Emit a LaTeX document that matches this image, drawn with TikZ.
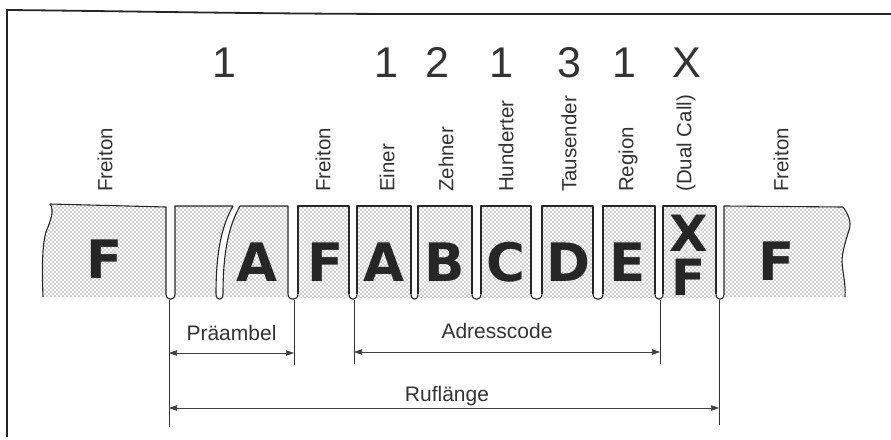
\documentclass[tikz,border=0pt]{standalone}
\usepackage{fontspec}
\setmainfont{Liberation Sans}
\newfontfamily\heavyfont{DejaVu Sans}
\usetikzlibrary{patterns,arrows.meta}

% staggered halftone dots for the tape
\pgfdeclarepatternformonly{halftone}{\pgfpoint{-1pt}{-1pt}}{\pgfpoint{5pt}{5pt}}{\pgfpoint{4pt}{4pt}}{%
  \pgfpathcircle{\pgfpoint{1pt}{1pt}}{0.72pt}%
  \pgfpathcircle{\pgfpoint{3pt}{3pt}}{0.72pt}%
  \pgfusepath{fill}}

\tikzset{
  frame/.style={line width=1.8pt, black!85},
  tape/.style={pattern=halftone, pattern color=black!80},
  edge/.style={line width=1.1pt, line join=round, black!85},
  digit/.style={font=\fontsize{43}{50}\selectfont, inner sep=0pt, text=black!80},
  vlabel/.style={rotate=90, anchor=west, inner sep=0pt, font=\fontsize{20.5}{24}\selectfont, text=black!80},
  glyph/.style={font=\heavyfont\bfseries\fontsize{53}{60}\selectfont, inner sep=0pt, text=black!85},
  pairglyph/.style={font=\heavyfont\bfseries\fontsize{50}{44}\selectfont, inner sep=0pt, text=black!85, align=center},
  caption/.style={font=\fontsize{21}{25}\selectfont, inner sep=0pt, text=black!80},
  tick/.style={line width=0.7pt, black!80},
  span/.style={{Triangle[length=8pt,width=5.5pt]}-{Triangle[length=8pt,width=5.5pt]}, line width=0.6pt, black!75},
}

\begin{document}
\begin{tikzpicture}[x=1pt, y=-1pt]
\useasboundingbox (0,0) rectangle (891,439);

% outer frame (left and top sides)
\draw[frame] (7,437) -- (7,10) .. controls (120,11) and (260,14) .. (420,14) -- (891,14);

% digits of the call
\node[digit] (d0) at (224,62.5) {1};
\node[digit] (d1) at (386.5,62.5) {1};
\node[digit] (d2) at (437,62.5) {2};
\node[digit] (d3) at (501.5,62.5) {1};
\node[digit] (d4) at (569,62.5) {3};
\node[digit] (d5) at (624.5,62.5) {1};
\node[digit] (d6) at (687,62.5) {X};

% vertical field labels
\node[vlabel] (l0) at (105,192) {Freiton};
\node[vlabel] (l1) at (323,192) {Freiton};
\node[vlabel] (l2) at (387,192) {Einer};
\node[vlabel] (l3) at (446,192) {Zehner};
\node[vlabel] (l4) at (506,192) {Hunderter};
\node[vlabel] (l5) at (569,192) {Tausender};
\node[vlabel] (l6) at (628,192) {Region};
\node[vlabel] (l7) at (686,192) {(Dual Call)};
\node[vlabel] (l8) at (781,192) {Freiton};

% first tape piece, torn on the left
\path[tape] (50,204) .. controls (55,210) and (50,222) .. (46,232)
  .. controls (42,245) and (42,270) .. (43,297) -- (166,297) -- (166,207) -- cycle;
\draw[edge] (43,297) .. controls (42,270) and (42,245) .. (46,232)
  .. controls (50,222) and (55,210) .. (50,204) -- (166,207) -- (166,294);

% preamble tone, split by a curved cut
\path[tape] (175,297) -- (175,206) -- (233,206)
  .. controls (224,222) and (216,245) .. (216,297) -- cycle;
\draw[edge] (175,294) -- (175,206) -- (233,206)
  .. controls (224,222) and (216,245) .. (216,294);
\path[tape] (223,297) -- (223,294) .. controls (223,245) and (231,222) .. (240,206)
  -- (288,206) -- (288,297) -- cycle;
\draw[edge] (223,294) .. controls (223,245) and (231,222) .. (240,206)
  -- (288,206) -- (288,294);

% regular tone fields
\foreach \l/\r in {298/349, 357/411, 418/472, 481/531, 542/593, 603/655, 663/716} {
  \path[tape] (\l,206) rectangle (\r,297);
  \draw[edge] (\l,294) -- (\l,206) -- (\r,206) -- (\r,294);
}

% last tape piece, torn on the right
\path[tape] (724,297) -- (724,206) -- (843,207) .. controls (848,214) and (852,222) .. (849,230)
  .. controls (846,240) and (842,252) .. (842,262) .. controls (843,275) and (846,285) .. (845,297) -- cycle;
\draw[edge] (724,294) -- (724,206) -- (843,207) .. controls (848,214) and (852,222) .. (849,230)
  .. controls (846,240) and (842,252) .. (842,262) .. controls (843,275) and (846,285) .. (845,297);

% rounded joins at the bottom of each gap
\foreach \a/\b in {166/175, 216/223, 288/298, 349/357, 411/418, 472/481, 531/542, 593/603, 655/663, 716/724} {
  \draw[edge] (\a,294) .. controls (\a,301) and (\b,301) .. (\b,294);
}

% tone letters
\node[glyph] (f0) at (105,259) {F};
\node[glyph] (a0) at (257,262) {A};
\node[glyph] (f1) at (326,262) {F};
\node[glyph] (a1) at (384,262) {A};
\node[glyph] (b1) at (445,262) {B};
\node[glyph] (c1) at (506,262) {C};
\node[glyph] (e1) at (568,262) {D};
\node[glyph] (g1) at (628,262) {E};
\node[pairglyph] (xf) at (689,255) {X\\F};
\node[glyph] (f3) at (777,261) {F};

% tick lines below the gaps
\coordinate (t1) at (169,299.5);  \coordinate (t1b) at (169,427);
\coordinate (t2) at (294,299.5);  \coordinate (t2b) at (294,365);
\coordinate (t3) at (354,299.5);  \coordinate (t3b) at (354,364);
\coordinate (t4) at (660,299.5);  \coordinate (t4b) at (660,364);
\coordinate (t5) at (719,299.5);  \coordinate (t5b) at (719,425);
\draw[tick] (t1) -- (t1b);
\draw[tick] (t2) -- (t2b);
\draw[tick] (t3) -- (t3b);
\draw[tick] (t4) -- (t4b);
\draw[tick] (t5) -- (t5b);

% dimension arrows
\coordinate (pa) at (169,353); \coordinate (pb) at (294,353);
\coordinate (aa) at (354,352); \coordinate (ab) at (660,352);
\coordinate (ra) at (169,408); \coordinate (rb) at (719,408);
\draw[span] (pa) -- (pb);
\draw[span] (aa) -- (ab);
\draw[span] (ra) -- (rb);

\node[caption] (cp) at (231.5,333) {Präambel};
\node[caption] (ca) at (497,331) {Adresscode};
\node[caption] (cr) at (447,396) {Ruflänge};
\end{tikzpicture}
\end{document}
